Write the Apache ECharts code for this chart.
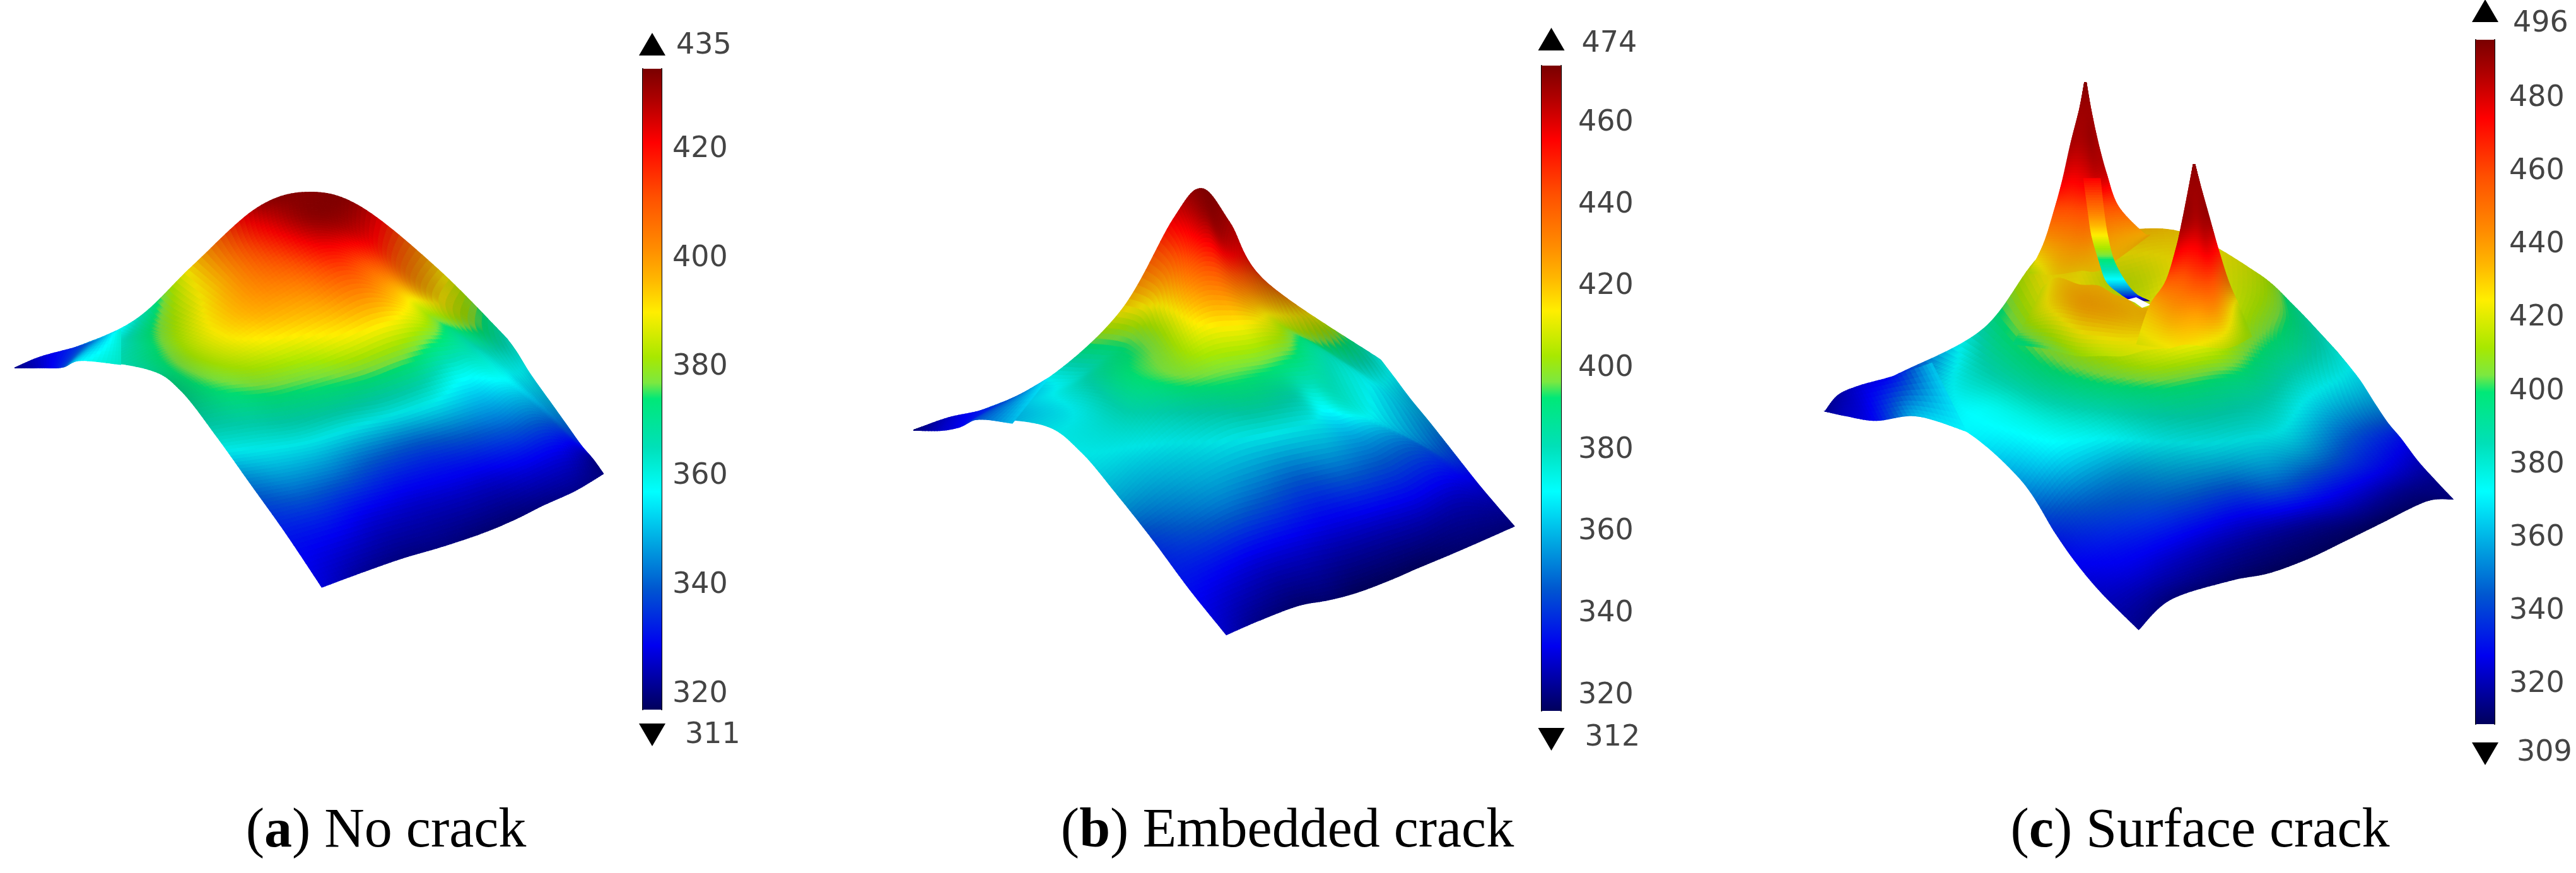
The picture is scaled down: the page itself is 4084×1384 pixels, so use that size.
<!DOCTYPE html>
<html><head><meta charset="utf-8">
<style>html,body{margin:0;padding:0;background:#fff}#c{width:4084px;height:1384px}</style>
<script src="https://cdn.jsdelivr.net/npm/echarts@6/dist/echarts.min.js"></script>
</head><body><div id="c"></div>
<script>
// ---- colour bar scales (temperature) ----
const ticksA=[320,340,360,380,400,420], barLowA=317.2, barHighA=434.8, minA=311, maxA=435;
const ticksB=[320,340,360,380,400,420,440,460], barLowB=316.3, barHighB=474, minB=312, maxB=474;
const ticksC=[320,340,360,380,400,420,440,460,480], barLowC=309.2, barHighC=496, minC=309, maxC=496;
const captions=[['a','No crack'],['b','Embedded crack'],['c','Surface crack']];
const paletteStops=[[0,'#7a0000'],[.05,'#b00000'],[.115,'#ff0000'],[.2,'#ff5000'],[.28,'#ff8c00'],[.33,'#ffb800'],[.38,'#ffee00'],[.45,'#a8e800'],[.49,'#7ce840'],[.515,'#00e878'],[.59,'#00e0b8'],[.66,'#00ffff'],[.745,'#00a0e0'],[.81,'#0058d0'],[.9,'#0000f0'],[1,'#00005c']];

// ---- surface (a): projected mesh, temperature and lighting at each node ----
const aX=[[38,190,340,480,640,770,900,1090,1260],[200,290,390,530,660,780,900,1060,1285],[370,430,510,620,740,840,950,1090,1320],[450,540,640,760,860,960,1050,1150,1370],[540,630,730,840,950,1050,1150,1230,1410],[620,710,810,930,1040,1140,1240,1320,1445],[710,810,910,1020,1120,1210,1300,1390,1475],[800,900,1000,1100,1200,1280,1350,1430,1500]];
const aY=[[723,650,550,360,155,100,155,375,620],[697,640,590,420,260,200,260,450,670],[730,690,640,530,430,350,410,540,750],[805,770,750,700,640,580,570,620,850],[970,950,930,880,850,800,760,740,930],[1130,1110,1080,1040,1000,960,910,860,1000],[1310,1270,1230,1190,1150,1110,1060,1010,1050],[1503,1450,1400,1358,1310,1262,1212,1160,1100]];
const aT=[[326,341,364,393,427,431,428,393,364],[357,362,376,395,418,430,424,396,361],[369,377,386,397,404,415,403,382,355],[371,377,380,382,387,389,383,369,349],[362,363,364,366,364,364,358,360,341],[344,347,346,341,339,341,343,347,332],[332,332,329,327,327,327,329,329,321],[327,322,320,320,319,319,320,321,320]];
const aS=[[1,1,.95,.92,.85,.85,.85,.8,.85],[1,.95,.9,.95,.95,.9,.95,.8,.85],[.9,.9,.95,1,1,1,1,.95,.85],[.8,.95,.95,1,1,1,1,.95,.85],[.9,.9,.88,.88,.88,.92,1,1,.9],[.95,.95,.95,.95,.95,.95,1,.95,.95],[1,1,1,1,1,1,1,1,1],[1,1,1,1,1,1,1,1,1]];
const wingAX=[[38,100,190,250,300],[38,105,155,200,300]];
const wingAY=[[723,685,650,620,590],[724,724,722,698,712]];
const wingAT=[[321,326,335,347,362],[321,326,335,355,364]];

// ---- surface (b) ----
const bX=[[45,215,380,560,690,760,830,920,1205],[205,300,450,610,720,770,820,950,1240],[370,440,520,640,740,800,870,990,1280],[460,540,610,710,800,890,970,1060,1330],[550,620,710,800,900,1000,1060,1140,1390],[640,720,810,900,1000,1100,1190,1290,1450],[730,810,900,1000,1100,1200,1300,1400,1495],[822,900,1000,1080,1150,1230,1300,1400,1538]];
const bY=[[870,805,700,480,180,80,190,385,640],[835,790,700,500,260,190,270,440,700],[855,800,680,560,420,400,440,540,770],[940,860,730,690,640,620,600,620,850],[1080,990,900,830,800,780,790,800,950],[1230,1170,1100,1060,1020,990,960,920,1050],[1390,1340,1290,1250,1220,1180,1140,1080,1120],[1540,1495,1445,1425,1400,1360,1320,1265,1185]];
const bT=[[324,345,370,414,458,471,465,442,373],[348,360,376,408,450,466,461,427,368],[367,370,387,400,427,433,427,405,360],[370,375,390,397,401,401,398,384,354],[360,364,371,379,383,379,372,375,342],[342,348,353,351,348,351,349,348,329],[334,332,330,329,327,327,327,327,323],[327,321,318,318,316,316,316,318,319]];
const bS=[[1,1,.92,.88,.95,.9,.85,.75,.85],[1,.95,.92,.9,1,1,.9,.75,.85],[.9,.9,.9,.9,1,1,.9,.85,.85],[.9,.9,.95,.95,1,1,.95,.95,.85],[.9,.9,.88,.88,.88,.88,1,.95,.9],[.95,.95,.95,.95,.95,.95,.95,.95,.95],[1,1,1,1,1,1,1,1,1],[1,1,1,1,1,1,1,1,1]];
const wingBX=[[45,130,215,300,380],[45,110,160,205,290]];
const wingBY=[[870,830,805,760,700],[871,872,860,835,848]];
const wingBT=[[319,327,337,348,367],[319,327,332,345,360]];

// ---- surface (c): plate, wing, first peak, crack face, crack lip, second peak ----
const cX=[[50,210,420,560,700,880,1060,1150,1250],[265,330,470,600,750,900,1060,1170,1300],[380,450,560,680,800,920,1040,1170,1340],[510,580,680,780,880,1000,1090,1200,1370],[590,660,760,860,960,1060,1150,1270,1400],[640,720,810,910,1010,1110,1220,1330,1440],[700,780,870,970,1070,1170,1280,1390,1480],[785,860,1000,1090,1180,1260,1350,1460,1522]];
const cY=[[937,845,720,520,470,462,570,660,780],[950,880,770,620,600,560,630,720,850],[990,930,860,790,760,720,720,790,920],[1120,1030,980,920,880,860,880,900,970],[1260,1180,1110,1060,1030,1000,1020,1010,1010],[1340,1280,1230,1190,1160,1130,1120,1090,1070],[1420,1370,1330,1290,1260,1230,1200,1150,1120],[1515,1435,1385,1365,1328,1285,1235,1175,1170]];
const cT=[[318,331,388,425,434,430,417,395,380],[361,369,395,425,417,425,414,393,369],[371,376,393,412,421,427,410,389,356],[356,371,378,391,399,397,388,371,343],[335,346,354,365,371,374,365,346,331],[328,333,337,339,339,346,337,331,322],[322,324,322,320,318,318,318,316,315],[315,313,311,309,309,309,309,311,313]];
const cS=[[1,1,.9,.85,.85,.85,.85,.85,.9],[.95,.92,.9,.88,.85,.88,.88,.85,.9],[1,1,.9,.9,.95,1,.9,.88,.9],[1,1,.95,.9,.9,.9,.88,.9,.92],[.95,.95,.9,.85,.85,.85,.88,.95,.95],[1,1,1,.95,.95,.95,.95,.95,.95],[1,1,1,1,1,1,1,1,1],[1,1,1,1,1,1,1,1,1]];
const wingCX=[[50,80,130,210,300],[52,100,170,265,380]];
const wingCY=[[937,895,870,845,810],[938,950,962,950,990]];
const wingCT=[[316,318,324,331,362],[316,322,330,361,371]];
const peak1X=[[658,659,660,661,662],[646,653,660,667,673],[626,642,658,674,690],[606,632,658,684,710],[587,622,658,697,737],[562,612,660,710,794],[528,590,650,700,810]];
const peak1Y=[[68,68,68,68,68],[139,139,139,139,139],[228,228,228,228,228],[328,328,328,328,311],[406,406,406,400,395],[495,495,490,480,464],[573,575,565,560,472]];
const peak1T=[[494,494,494,494,494],[490,490,490,490,490],[488,487,488,490,488],[477,475,477,481,483],[459,459,460,459,459],[438,442,444,440,438],[415,429,431,431,436]];
const peak1S=[[1,1,1,1,1],[1,1,1,1,1],[1,1,1,1,1],[1,1,1,1,1],[1,1,1,1,1],[.95,.95,.95,.95,.95],[.88,.88,.88,.88,.88]];
const faceX=[[656,695],[666,703],[675,712],[692,727],[710,754],[744,779],[769,808]];
const faceY=[[322,322],[406,406],[473,473],[539,539],[595,595],[628,628],[645,645]];
const faceT=[[475,475],[449,449],[425,425],[399,399],[369,369],[343,343],[315,315]];
const lipX=[[560,594,646,690,725,759,789,840],[530,590,650,700,745,785,820,860],[490,560,640,700,750,800,840,880]];
const lipY=[[610,585,603,606,628,642,664,660],[680,660,670,680,690,700,695,690],[760,770,790,790,790,775,770,760]];
const lipT=[[420,429,434,434,434,434,432,434],[414,428,436,436,434,432,434,438],[396,402,410,415,418,422,424,425]];
const lipS=[[.88,.88,.88,.88,.88,.88,.88,.88],[.88,.88,.88,.88,.88,.88,.88,.9],[.9,.9,.92,.95,.95,.95,.95,.95]];
const holeX=[759,779,813,793,776], holeY=[642,636,656,664,650];
const peak2X=[[913,914,915,916,917],[902,910,917,925,932],[888,904,920,936,952],[873,897,922,946,971],[848,885,922,959,996],[810,862,918,970,1025],[780,850,900,990,1050]];
const peak2Y=[[285,285,285,285,285],[350,350,350,350,350],[430,430,430,430,430],[506,506,506,506,506],[595,595,595,595,595],[660,685,680,675,670],[760,770,760,770,740]];
const peak2T=[[492,492,492,492,492],[490,490,490,490,490],[490,489,487,489,490],[479,475,475,479,474],[455,455,459,459,447],[434,438,440,440,416],[421,424,427,417,410]];
const peak2S=[[1,1,1,1,1],[1,1,1,1,1],[1,1,1,1,1],[1,1,1,1,1],[1,1,1,1,.85],[.95,.97,1,.97,.88],[.92,.95,.97,.92,.88]];

// ---- helpers ----
const paletteRGB=paletteStops.map(s=>[s[0],parseInt(s[1].slice(1,3),16),parseInt(s[1].slice(3,5),16),parseInt(s[1].slice(5,7),16)]);
function colourAt(f,shade){
  f=Math.max(0,Math.min(1,f));
  let k=1;
  while(k<paletteRGB.length-1&&f>paletteRGB[k][0])k++;
  const a=paletteRGB[k-1],b=paletteRGB[k],t=(f-a[0])/(b[0]-a[0]);
  return 'rgb('+[1,2,3].map(c=>Math.round((a[c]+(b[c]-a[c])*t)*Math.min(1,shade))).join(',')+')';
}
function cr(p0,p1,p2,p3,t){
  return .5*((2*p1)+(-p0+p2)*t+(2*p0-5*p1+4*p2-p3)*t*t+(-p0+3*p1-3*p2+p3)*t*t*t);
}
function sample(m,i,j,u,v){
  const R=m.length-1,C=m[0].length-1,vals=[];
  for(let r=-1;r<=2;r++){
    const row=m[Math.max(0,Math.min(R,i+r))];
    vals.push(cr(row[Math.max(0,j-1)],row[j],row[Math.min(C,j+1)],row[Math.min(C,j+2)],v));
  }
  return cr(vals[0],vals[1],vals[2],vals[3],u);
}
function meshSeries(X,Y,T,S,gridIdx,lo,hi,n){
  const data=[];
  for(let i=0;i<X.length-1;i++)for(let j=0;j<X[0].length-1;j++)data.push([i,j]);
  return {type:'custom',coordinateSystem:'cartesian2d',xAxisIndex:gridIdx,yAxisIndex:gridIdx,silent:true,clip:false,animation:false,progressive:0,
    encode:{x:-1,y:-1},data,
    renderItem(params,api){
      const i=api.value(0),j=api.value(1),children=[];
      const pt=(a,b)=>api.coord([sample(X,i,j,a/n,b/n),sample(Y,i,j,a/n,b/n)]);
      for(let a=0;a<n;a++)for(let b=0;b<n;b++){
        const t=sample(T,i,j,(a+.5)/n,(b+.5)/n);
        const s=S?sample(S,i,j,(a+.5)/n,(b+.5)/n):1;
        const c=colourAt((hi-t)/(hi-lo),s);
        children.push({type:'polygon',shape:{points:[pt(a,b),pt(a,b+1),pt(a+1,b+1),pt(a+1,b)]},style:{fill:c,stroke:c,lineWidth:1.2}});
      }
      return {type:'group',children};
    }};
}
function holeSeries(gridIdx){
  return {type:'custom',coordinateSystem:'cartesian2d',xAxisIndex:gridIdx,yAxisIndex:gridIdx,silent:true,clip:false,animation:false,
    encode:{x:-1,y:-1},data:[[0,0]],
    renderItem(params,api){
      return {type:'polygon',shape:{points:holeX.map((x,k)=>api.coord([x,holeY[k]]))},style:{fill:'#fff'}};
    }};
}
const labelFont={fontFamily:'DejaVu Sans',fontSize:46,color:'#444'};

const surfaceRects=[[0,260,1000,700],[1420,260,1000,760],[2860,90,1060,940]];
const barRects=[[1019,109,30,1016],[2444,104,31,1023],[3925,63,30,1085]];
const bars=[
 {ticks:ticksA,lo:barLowA,hi:barHighA,min:minA,max:maxA,margin:17,up:[-39,-36],down:[40,41],topDx:17,botDx:31},
 {ticks:ticksB,lo:barLowB,hi:barHighB,min:minB,max:maxB,margin:27,up:[-42,-34],down:[45,43],topDx:27,botDx:32},
 {ticks:ticksC,lo:barLowC,hi:barHighC,min:minC,max:maxC,margin:23,up:[-46,-25],down:[47,46],topDx:23,botDx:29}
];
const grid=[],xAxis=[],yAxis=[],series=[];
surfaceRects.forEach((r,k)=>{
  grid.push({left:r[0],top:r[1],width:r[2],height:r[3]});
  xAxis.push({type:'value',gridIndex:k,min:0,max:1568,show:false});
  yAxis.push({type:'value',gridIndex:k,min:0,max:1568,inverse:true,show:false});
});
series.push(meshSeries(aX,aY,aT,aS,0,barLowA,barHighA,14));
series.push(meshSeries(wingAX,wingAY,wingAT,null,0,barLowA,barHighA,10));
series.push(meshSeries(bX,bY,bT,bS,1,barLowB,barHighB,14));
series.push(meshSeries(wingBX,wingBY,wingBT,null,1,barLowB,barHighB,10));
series.push(meshSeries(cX,cY,cT,cS,2,barLowC,barHighC,14));
series.push(meshSeries(wingCX,wingCY,wingCT,null,2,barLowC,barHighC,10));
series.push(meshSeries(peak1X,peak1Y,peak1T,peak1S,2,barLowC,barHighC,14));
series.push(meshSeries(faceX,faceY,faceT,null,2,barLowC,barHighC,14));
series.push(meshSeries(lipX,lipY,lipT,lipS,2,barLowC,barHighC,12));
series.push(holeSeries(2));
series.push(meshSeries(peak2X,peak2Y,peak2T,peak2S,2,barLowC,barHighC,14));

const gradient={type:'linear',x:0,y:0,x2:0,y2:1,colorStops:paletteStops.map(s=>({offset:s[0],color:s[1]}))};
bars.forEach((b,k)=>{
  const r=barRects[k],g=3+k;
  grid.push({left:r[0],top:r[1],width:r[2],height:r[3]});
  const xi=xAxis.length;
  xAxis.push({type:'category',gridIndex:g,data:[''],show:false});
  const yi=yAxis.length;
  const common={type:'value',gridIndex:g,min:b.lo,max:b.hi,splitLine:{show:false},
    axisLine:{show:true,onZero:false,lineStyle:{color:'#000',width:2}}};
  yAxis.push(Object.assign({},common,{position:'right',
    axisTick:{show:true,inside:true,length:7,customValues:b.ticks,lineStyle:{color:'#111',width:2}},
    axisLabel:Object.assign({show:true,margin:b.margin,customValues:b.ticks,showMinLabel:true,showMaxLabel:true},labelFont)}));
  yAxis.push(Object.assign({},common,{position:'left',
    axisTick:{show:true,inside:true,length:7,customValues:b.ticks,lineStyle:{color:'#111',width:2}},
    axisLabel:{show:false}}));
  series.push({type:'bar',xAxisIndex:xi,yAxisIndex:yi,barWidth:'100%',silent:true,animation:false,data:[b.hi],itemStyle:{color:gradient}});
  series.push({type:'scatter',xAxisIndex:xi,yAxisIndex:yi,silent:true,animation:false,clip:false,
    symbol:'triangle',symbolSize:[42,36],
    data:[
      {value:[0,b.hi],symbolOffset:[0,b.up[0]],label:{show:true,position:'right',formatter:String(b.max),distance:b.topDx,offset:[0,b.up[1]-b.up[0]],...labelFont}},
      {value:[0,b.lo],symbolRotate:180,symbolOffset:[0,b.down[0]],label:{show:true,position:'right',formatter:String(b.min),distance:b.botDx,offset:[0,b.down[1]-b.down[0]],...labelFont}}
    ],
    itemStyle:{color:'#000',opacity:1}});
});
const capCentres=[607,2036,3483];
const title=captions.map((c,k)=>({
  text:'{n|(}{b|'+c[0]+'}{n|) '+c[1]+'}',left:capCentres[k],top:1270,textAlign:'center',
  textStyle:{fontWeight:'normal',rich:{n:{fontFamily:'Liberation Serif',fontSize:88,fontWeight:'normal',color:'#000'},b:{fontFamily:'Liberation Serif',fontSize:88,fontWeight:'bold',color:'#000'}}}
}));
const chart=echarts.init(document.getElementById('c'),null,{renderer:'canvas'});
chart.setOption({backgroundColor:'#fff',animation:false,title,grid,xAxis,yAxis,series});
</script></body></html>
